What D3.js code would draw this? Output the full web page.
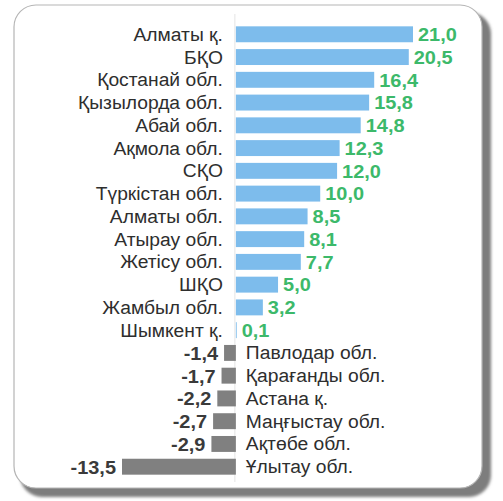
<!DOCTYPE html>
<html lang="kk">
<head>
<meta charset="UTF-8">
<title>Өңірлер</title>
<style>
  body { margin: 0; background: #fff; }
  text { font-family: "Liberation Sans", Arial, sans-serif; }
</style>
</head>
<body>
<script src="https://d3js.org/d3.v7.min.js"></script>
<script>

// өңірлер мен мәндер
var regions = ["Алматы қ.", "БҚО", "Қостанай обл.", "Қызылорда обл.", "Абай обл.",
  "Ақмола обл.", "СҚО", "Түркістан обл.", "Алматы обл.", "Атырау обл.",
  "Жетісу обл.", "ШҚО", "Жамбыл обл.", "Шымкент қ.", "Павлодар обл.",
  "Қарағанды обл.", "Астана қ.", "Маңғыстау обл.", "Ақтөбе обл.", "Ұлытау обл."];
var values = [21.0, 20.5, 16.4, 15.8, 14.8, 12.3, 12.0, 10.0, 8.5, 8.1,
  7.7, 5.0, 3.2, 0.1, -1.4, -1.7, -2.2, -2.7, -2.9, -13.5];

var width = 503, height = 501;

var data = regions.map(function(r, i) { return { name: r, value: values[i] }; });

var svg = d3.select("body").append("svg")
  .attr("width", width)
  .attr("height", height);

// рамка мен көлеңке
var defs = svg.append("defs");
defs.append("filter").attr("id", "blur")
  .append("feGaussianBlur").attr("stdDeviation", 1.5);

svg.append("rect")
  .attr("x", 20).attr("y", 12)
  .attr("width", 471).attr("height", 485)
  .attr("rx", 22)
  .attr("fill", "#7d7d7d")
  .attr("filter", "url(#blur)");

svg.append("rect")
  .attr("x", 14).attr("y", 5)
  .attr("width", 468).attr("height", 483)
  .attr("rx", 22)
  .attr("fill", "#fff")
  .attr("stroke", "#b5b5b5")
  .attr("stroke-width", 1.2);

var x = d3.scaleLinear()
  .domain([-13.5, 21])
  .range([122, 413]);

var y = d3.scaleBand()
  .domain(regions)
  .range([19.5, 481.5])
  .padding(0.3);

// нөл сызығы
svg.append("line")
  .attr("x1", x(0) - 1).attr("x2", x(0) - 1)
  .attr("y1", 14).attr("y2", 482)
  .attr("stroke", "#e4e4e4")
  .attr("stroke-width", 1);

var row = svg.selectAll("g.row")
  .data(data)
  .enter().append("g")
  .attr("class", "row");

row.append("rect")
  .attr("x", function(d) { return x(Math.min(0, d.value)); })
  .attr("y", function(d) { return y(d.name); })
  .attr("width", function(d) { return Math.abs(x(d.value) - x(0)); })
  .attr("height", y.bandwidth())
  .attr("fill", function(d) { return d.value >= 0 ? "#7dbcec" : "#808080"; });

// өңір атаулары (сәл кеңейтілген)
row.append("text")
  .attr("transform", function(d) {
    var tx = d.value >= 0 ? x(0) - 13 : x(0) + 10;
    return "translate(" + tx + "," + (y(d.name) + y.bandwidth() / 2) + ") scale(1.07,1)";
  })
  .attr("dy", "0.36em")
  .attr("text-anchor", function(d) { return d.value >= 0 ? "end" : "start"; })
  .attr("font-size", 18)
  .attr("fill", "#2e2e2e")
  .text(function(d) { return d.name; });

// мән белгілері
row.append("text")
  .attr("transform", function(d) {
    var tx = d.value >= 0 ? x(d.value) + 5 : x(d.value) - 6;
    return "translate(" + tx + "," + (y(d.name) + y.bandwidth() / 2) + ") scale(1.05,1)";
  })
  .attr("dy", "0.36em")
  .attr("text-anchor", function(d) { return d.value >= 0 ? "start" : "end"; })
  .attr("font-size", 19)
  .attr("font-weight", "bold")
  .attr("fill", function(d) { return d.value >= 0 ? "#3cb96a" : "#3a3a3a"; })
  .text(function(d) { return d3.format(".1f")(d.value).replace(".", ",").replace("−", "-"); });

</script>
</body>
</html>
